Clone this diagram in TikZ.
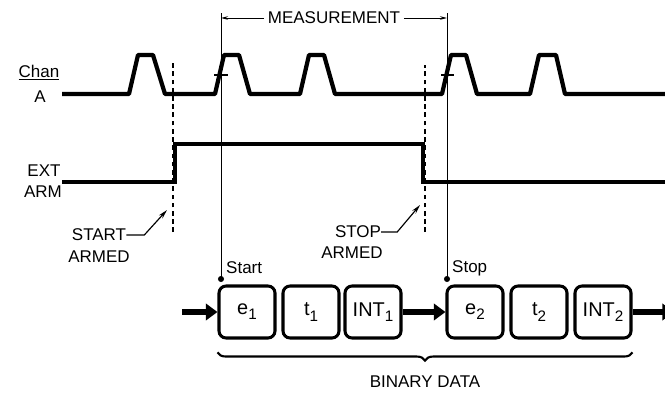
\documentclass[tikz,border=0pt]{standalone}
\usepackage{fontspec}
\setmainfont{Liberation Sans}
\usetikzlibrary{arrows.meta,decorations.pathreplacing}
\newcommand{\lowidx}[1]{\raisebox{-0.5ex}{\fontsize{13}{13}\selectfont #1}}

\begin{document}
\begin{tikzpicture}[x=0.03cm, y=-0.03cm,
    wave/.style={line width=3.6pt, line join=round},
    armwave/.style={line width=3pt},
    armmark/.style={line width=1.1pt, dash pattern=on 4pt off 3pt},
    edgemark/.style={line width=0.8pt},
    dimarrow/.style={-{Stealth[length=6pt,width=3pt]}, line width=0.8pt},
    leader/.style={-{Stealth[length=8pt,width=4pt]}, line width=1pt},
    cell/.style={draw, line width=2.6pt, rounded corners=6pt, minimum width=1.68cm, minimum height=1.56cm, font=\fontsize{17}{17}\selectfont},
    flow/.style={-{Triangle[length=10pt,width=14pt]}, line width=5pt},
    txt/.style={font=\fontsize{14.5}{15}\selectfont, inner sep=0pt},
    bracket/.style={decorate, decoration={brace, mirror, amplitude=7pt}, line width=1.8pt}
]
    \useasboundingbox (0,0) rectangle (665,394);

    % signal names
    \node[txt, name=chan] at(39,73) {\underline{Chan}};
    \node[txt, name=chana] at(40,97) {A};
    \node[txt, name=ext] at(44,171) {EXT};
    \node[txt, name=arm] at(43,192) {ARM};

    % channel A pulses
    \draw[wave] (62,94) -- (129,94) -- (138,55) -- (153,55) -- (165,94)
        -- (215,94) -- (224,55) -- (239,55) -- (250,94)
        -- (300,94) -- (309,55) -- (324,55) -- (335,94)
        -- (442,94) -- (451,55) -- (466,55) -- (477,94)
        -- (530,94) -- (539,55) -- (556,55) -- (565,94) -- (665,94);

    % external arm
    \draw[armwave] (62,182) -- (175,182) -- (175,144) -- (423,144) -- (423,182) -- (665,182);

    % arming instants
    \coordinate (armon) at (173,232);
    \coordinate (armoff) at (425,232);
    \draw[armmark] (armon) -- ++(0,-169);
    \draw[armmark] (armoff) -- ++(0,-167);

    % start / stop edges
    \coordinate (startmark) at (221,279);
    \coordinate (stopmark) at (447,279);
    \draw[edgemark] (startmark) -- ++(0,-266);
    \draw[edgemark] (stopmark) -- ++(0,-266);
    \fill (startmark) circle[radius=2.6pt];
    \fill (stopmark) circle[radius=2.6pt];
    \draw[line width=1.2pt] (214,75) -- (228,75);
    \draw[line width=1.2pt] (441,75) -- (454,75);

    \node[txt, inner xsep=3pt, name=measure] at(334,18) {MEASUREMENT};
    \draw[dimarrow] (measure.west) -- (measure.west -| startmark);
    \draw[dimarrow] (measure.east) -- (measure.east -| stopmark);

    \node[txt, anchor=west, name=startlbl] at(226,268) {Start};
    \node[txt, anchor=west, name=stoplbl] at(452,268) {Stop};

    % armed labels
    \node[txt, name=startarm] at(99,235) {START};
    \node[txt, name=startarmed] at(99,257) {ARMED};
    \node[txt, name=stoparm] at(358,232) {STOP};
    \node[txt, name=stoparmed] at(352,253) {ARMED};
    \coordinate (armonptr) at (167,210);
    \coordinate (armoffptr) at (420,205);
    \draw[leader] (startarm.east) -- ++(18,0) -- (armonptr);
    \draw[leader] (stoparm.east) -- ++(16,0) -- (armoffptr);

    % binary data
    \node[cell, name=eone] at(247,312) {e\lowidx{1}};
    \node[cell, name=tone] at(311,312) {t\lowidx{1}};
    \node[cell, name=intone] at(373,312) {INT\lowidx{1}};
    \node[cell, name=etwo] at(475,312) {e\lowidx{2}};
    \node[cell, name=ttwo] at(539,312) {t\lowidx{2}};
    \node[cell, name=inttwo] at(603,312) {INT\lowidx{2}};

    \coordinate (feed) at (182,312);
    \coordinate (drain) at (674,312);
    \draw[flow] (feed) -- (eone);
    \draw[flow] (intone) -- (etwo);
    \draw[flow] (inttwo) -- (drain);

    \draw[bracket] ([yshift=-11pt]eone.south west) -- ([yshift=-11pt]inttwo.south east);
    \node[txt, name=binary] at(425,382) {BINARY DATA};
\end{tikzpicture}
\end{document}
